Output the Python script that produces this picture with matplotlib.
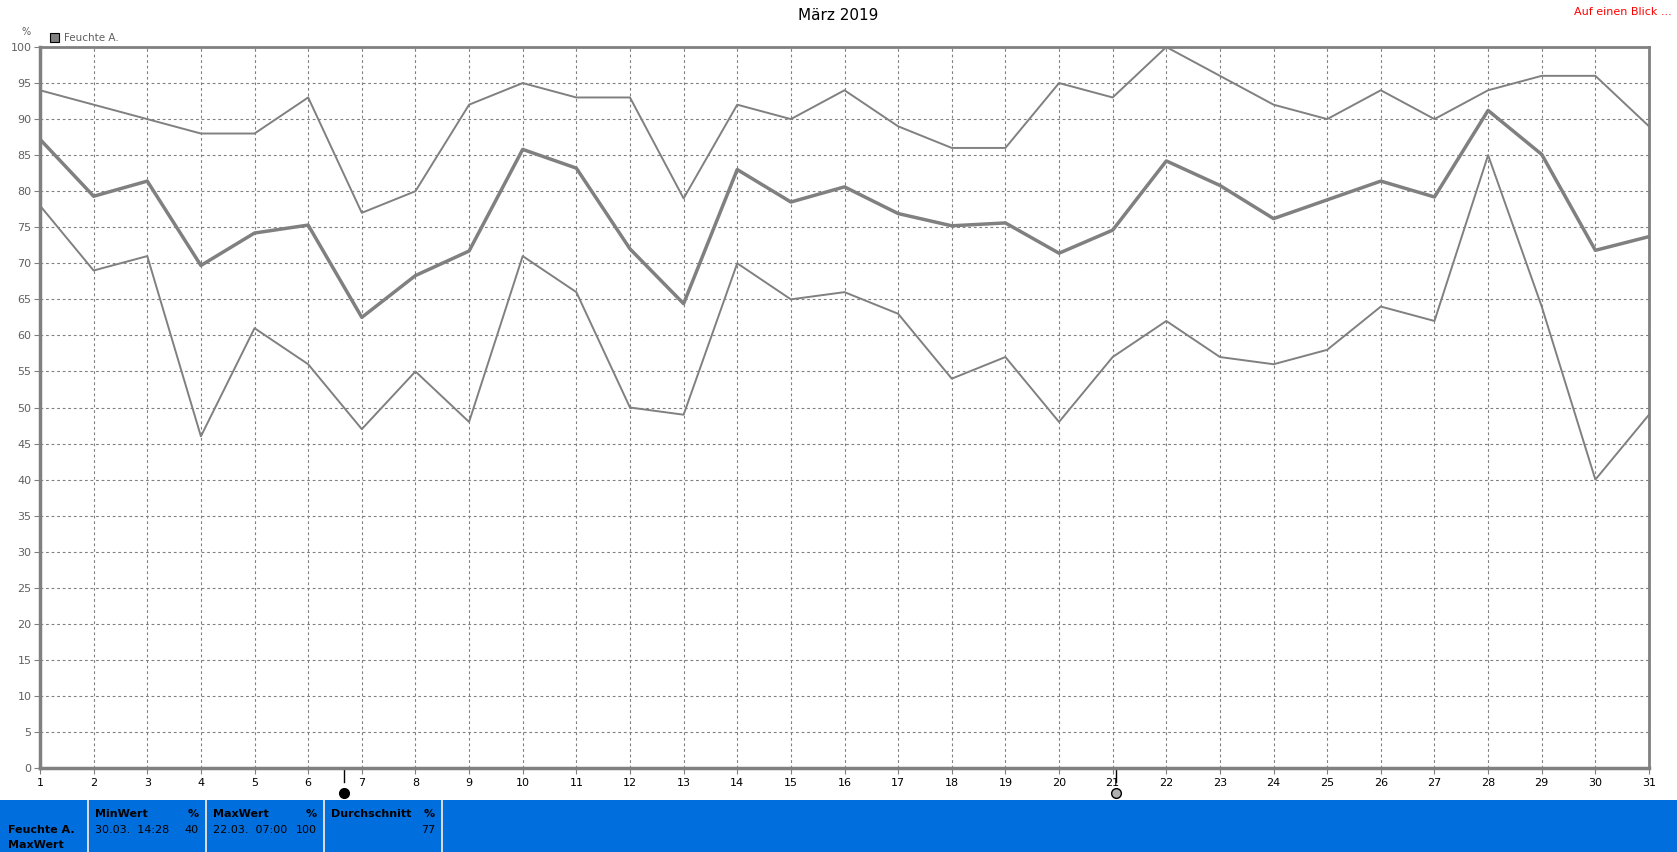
import matplotlib.pyplot as plt
from matplotlib.patches import Rectangle

W, H = 1677, 852

days = list(range(1, 32))
hum_max = [94, 92, 90, 88, 88, 93, 77, 80, 92, 95, 93, 93, 79, 92, 90, 94,
           89, 86, 86, 95, 93, 100, 96, 92, 90, 94, 90, 94, 96, 96, 89]
hum_mean = [87.2, 79.3, 81.4, 69.7, 74.2, 75.3, 62.5, 68.3, 71.7, 85.8, 83.2,
            72.0, 64.4, 83.0, 78.5, 80.6, 76.9, 75.2, 75.6, 71.4, 74.6, 84.2,
            80.8, 76.2, 78.8, 81.4, 79.2, 91.2, 85.1, 71.8, 73.7]
hum_min = [78, 69, 71, 46, 61, 56, 47, 55, 48, 71, 66, 50, 49, 70, 65, 66,
           63, 54, 57, 48, 57, 62, 57, 56, 58, 64, 62, 85, 64, 40, 49]

new_moon = 6.67
full_moon = 21.07

summary_heads = ['MinWert', 'MaxWert', 'Durchschnitt']
summary_dates = ['30.03.  14:28', '22.03.  07:00', '']
summary_vals = ['40', '100', '77']

grey = '#808080'


def fx(px):
    return px / W


def fy(py):
    return 1 - py / H


fig = plt.figure(figsize=(W / 100, H / 100), dpi=100)
ax = fig.add_axes([fx(40), fy(768), fx(1649) - fx(40), fy(47) - fy(768)])

ax.plot(days, hum_max, color=grey, lw=1.4)
ax.plot(days, hum_mean, color=grey, lw=2.5)
ax.plot(days, hum_min, color=grey, lw=1.4)

ax.set_xlim(1, 31)
ax.set_ylim(0, 100)
ax.set_xticks(days)
ax.set_yticks(range(0, 101, 5))
ax.grid(True, color=grey, ls=(0, (2.5, 2.5)), lw=0.8)
ax.tick_params(axis='x', length=4, color=grey, labelsize=8, pad=3)
ax.tick_params(axis='y', length=4, color=grey, labelsize=8, labelcolor='#606060', pad=2)
for s in ['left', 'bottom']:
    ax.spines[s].set_color(grey)
    ax.spines[s].set_linewidth(2.5)
for s in ['top', 'right']:
    ax.spines[s].set_color(grey)
    ax.spines[s].set_linewidth(2)

# moon markers under x axis
for pos, fc in [(new_moon, 'black'), (full_moon, '#b0b0b0')]:
    ax.plot([pos, pos], [0, -2.0], color='black', lw=1, clip_on=False)
    ax.plot([pos], [-3.5], marker='o', ms=7, mfc=fc, mec='black', mew=1,
            clip_on=False)

fig.text(0.5, fy(15), 'März 2019', ha='center', va='center', fontsize=11)
fig.text(fx(26), fy(32), '%', ha='center', va='center', fontsize=7, color='#606060')
fig.patches.append(Rectangle((fx(50), fy(42)), fx(9), fy(33) - fy(42),
                             transform=fig.transFigure, fc=grey, ec='black', lw=0.8))
fig.text(fx(64), fy(38), 'Feuchte A.', ha='left', va='center', fontsize=7.5, color='#606060')
fig.text(fx(1672), fy(12), 'Auf einen Blick ...', ha='right', va='center',
         fontsize=8, color='red')

# summary panel
blue = '#006fdd'
fig.patches.append(Rectangle((0, 0), 1, fy(800), transform=fig.transFigure,
                             fc=blue, ec='none'))
for xd in [87, 205, 323, 441]:
    fig.patches.append(Rectangle((fx(xd), 0), fx(2), fy(800), transform=fig.transFigure,
                                 fc='#d8d8d8', ec='none'))
fig.text(fx(8), fy(830), 'Feuchte A.', ha='left', va='center', fontsize=8, weight='bold')
fig.text(fx(8), fy(845), 'MaxWert', ha='left', va='center', fontsize=8, weight='bold')
for i in range(3):
    x0 = 89 + i * 118
    fig.text(fx(x0 + 6), fy(814), summary_heads[i], ha='left', va='center',
             fontsize=8, weight='bold')
    fig.text(fx(x0 + 110), fy(814), '%', ha='right', va='center', fontsize=8, weight='bold')
    fig.text(fx(x0 + 6), fy(830), summary_dates[i], ha='left', va='center', fontsize=8)
    fig.text(fx(x0 + 110), fy(830), summary_vals[i], ha='right', va='center', fontsize=8)

fig.savefig('out.png', dpi=100)
